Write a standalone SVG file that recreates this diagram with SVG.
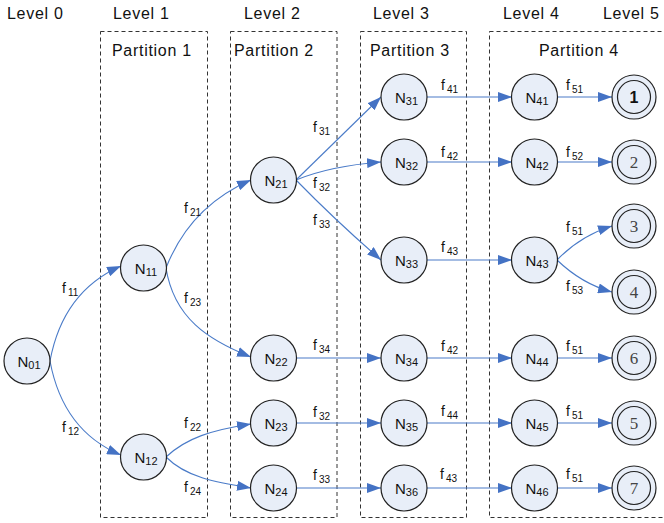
<svg xmlns="http://www.w3.org/2000/svg" width="664" height="523" viewBox="0 0 664 523">
<defs>
<marker id="ah" markerWidth="14" markerHeight="10" refX="14" refY="5" orient="auto" markerUnits="userSpaceOnUse">
<path d="M0,0 L14,5 L0,10 Z" fill="#4472c4"/>
</marker>
<style>
.lvl{font-family:"Liberation Sans",Arial,sans-serif;font-size:16px;fill:#111;letter-spacing:0.7px}
.part{fill:none;stroke:#333;stroke-width:1;stroke-dasharray:4,3}
.n{fill:#e8eef8;stroke:#222;stroke-width:1.2}
.nt{font-family:"Liberation Sans",Arial,sans-serif;font-size:15px;fill:#111;text-anchor:middle}
.sub{font-size:11px}
.fin{font-family:"Liberation Serif","Times New Roman",serif;font-size:17px;fill:#444;text-anchor:middle}
.e{fill:none;stroke:#4a7bc8;stroke-width:1.1;marker-end:url(#ah)}
.el{font-family:"Liberation Sans",Arial,sans-serif;font-size:14px;fill:#111}
.es{font-size:10px}
</style>
</defs>
<g id="levels">
<text class="lvl" x="7" y="19">Level 0</text>
<text class="lvl" x="113" y="19">Level 1</text>
<text class="lvl" x="244" y="19">Level 2</text>
<text class="lvl" x="373" y="19">Level 3</text>
<text class="lvl" x="503" y="19">Level 4</text>
<text class="lvl" x="603" y="19">Level 5</text>
</g>
<g id="partitions">
<rect class="part" x="100.5" y="31.5" width="107" height="486"/>
<rect class="part" x="230.5" y="31.5" width="106.5" height="486"/>
<rect class="part" x="360.5" y="31.5" width="106" height="486"/>
<rect class="part" x="489.5" y="31.5" width="190" height="486"/>
<text class="lvl" x="112" y="56">Partition 1</text>
<text class="lvl" x="234" y="56">Partition 2</text>
<text class="lvl" x="370" y="56">Partition 3</text>
<text class="lvl" x="539" y="56">Partition 4</text>
</g>
<g id="connectors">
<path class="e" d="M50,361 C58,318 80,284 121,266"/>
<path class="e" d="M50,361 C58,404 80,438 121,455"/>
<path class="e" d="M166,268 C184,222 214,196 251,180"/>
<path class="e" d="M166,268 C174,318 208,340 251,357"/>
<path class="e" d="M166,457 C186,438 212,430 251,424"/>
<path class="e" d="M166,457 C186,477 214,482 251,488"/>
<path class="e" d="M296,180 L381,97"/>
<path class="e" d="M296,180 Q330,166 381,162"/>
<path class="e" d="M296,180 Q335,220 381,260"/>
<path class="e" d="M296,358 L381,358"/>
<path class="e" d="M296,423 L381,423"/>
<path class="e" d="M296,488 L381,488"/>
<path class="e" d="M427,97 L512,97"/>
<path class="e" d="M427,162 L512,162"/>
<path class="e" d="M427,260 L512,260"/>
<path class="e" d="M427,358 L512,358"/>
<path class="e" d="M427,423 L512,423"/>
<path class="e" d="M427,488 L512,488"/>
<path class="e" d="M557,97 L612,97"/>
<path class="e" d="M557,162 L612,162"/>
<path class="e" d="M557,260 Q580,236 612,226"/>
<path class="e" d="M557,260 Q582,284 612,292"/>
<path class="e" d="M557,358 L612,358"/>
<path class="e" d="M557,423 L612,423"/>
<path class="e" d="M557,488 L612,488"/>
<text class="el" x="62" y="293">f<tspan class="es" dx="2" dy="3">11</tspan></text>
<text class="el" x="62" y="432">f<tspan class="es" dx="2" dy="3">12</tspan></text>
<text class="el" x="184" y="213">f<tspan class="es" dx="2" dy="3">21</tspan></text>
<text class="el" x="184" y="303">f<tspan class="es" dx="2" dy="3">23</tspan></text>
<text class="el" x="184" y="428">f<tspan class="es" dx="2" dy="3">22</tspan></text>
<text class="el" x="184" y="492">f<tspan class="es" dx="2" dy="3">24</tspan></text>
<text class="el" x="313" y="132">f<tspan class="es" dx="2" dy="3">31</tspan></text>
<text class="el" x="313" y="188">f<tspan class="es" dx="2" dy="3">32</tspan></text>
<text class="el" x="313" y="225">f<tspan class="es" dx="2" dy="3">33</tspan></text>
<text class="el" x="313" y="350">f<tspan class="es" dx="2" dy="3">34</tspan></text>
<text class="el" x="313" y="417">f<tspan class="es" dx="2" dy="3">32</tspan></text>
<text class="el" x="313" y="480">f<tspan class="es" dx="2" dy="3">33</tspan></text>
<text class="el" x="441" y="90">f<tspan class="es" dx="2" dy="3">41</tspan></text>
<text class="el" x="441" y="157">f<tspan class="es" dx="2" dy="3">42</tspan></text>
<text class="el" x="441" y="252">f<tspan class="es" dx="2" dy="3">43</tspan></text>
<text class="el" x="441" y="351">f<tspan class="es" dx="2" dy="3">42</tspan></text>
<text class="el" x="441" y="416">f<tspan class="es" dx="2" dy="3">44</tspan></text>
<text class="el" x="440" y="479">f<tspan class="es" dx="2" dy="3">43</tspan></text>
<text class="el" x="566" y="90">f<tspan class="es" dx="2" dy="3">51</tspan></text>
<text class="el" x="566" y="157">f<tspan class="es" dx="2" dy="3">52</tspan></text>
<text class="el" x="566" y="232">f<tspan class="es" dx="2" dy="3">51</tspan></text>
<text class="el" x="566" y="291">f<tspan class="es" dx="2" dy="3">53</tspan></text>
<text class="el" x="566" y="351">f<tspan class="es" dx="2" dy="3">51</tspan></text>
<text class="el" x="566" y="416">f<tspan class="es" dx="2" dy="3">51</tspan></text>
<text class="el" x="566" y="479">f<tspan class="es" dx="2" dy="3">51</tspan></text>
</g>
<g id="N01"><circle class="n" cx="27" cy="361" r="23"/><text class="nt" x="29" y="367">N<tspan class="sub" dy="2">01</tspan></text></g>
<g id="N11"><circle class="n" cx="143.5" cy="268" r="23"/><text class="nt" x="146" y="274">N<tspan class="sub" dy="2">11</tspan></text></g>
<g id="N12"><circle class="n" cx="143.5" cy="457" r="23"/><text class="nt" x="146" y="463">N<tspan class="sub" dy="2">12</tspan></text></g>
<g id="N21"><circle class="n" cx="273.5" cy="180" r="23"/><text class="nt" x="276" y="186">N<tspan class="sub" dy="2">21</tspan></text></g>
<g id="N22"><circle class="n" cx="273.5" cy="358" r="23"/><text class="nt" x="276" y="364">N<tspan class="sub" dy="2">22</tspan></text></g>
<g id="N23"><circle class="n" cx="273.5" cy="423" r="23"/><text class="nt" x="276" y="429">N<tspan class="sub" dy="2">23</tspan></text></g>
<g id="N24"><circle class="n" cx="273.5" cy="488" r="23"/><text class="nt" x="276" y="494">N<tspan class="sub" dy="2">24</tspan></text></g>
<g id="N31"><circle class="n" cx="404" cy="97" r="23"/><text class="nt" x="406.5" y="103">N<tspan class="sub" dy="2">31</tspan></text></g>
<g id="N32"><circle class="n" cx="404" cy="162" r="23"/><text class="nt" x="406.5" y="168">N<tspan class="sub" dy="2">32</tspan></text></g>
<g id="N33"><circle class="n" cx="404" cy="260" r="23"/><text class="nt" x="406.5" y="266">N<tspan class="sub" dy="2">33</tspan></text></g>
<g id="N34"><circle class="n" cx="404" cy="358" r="23"/><text class="nt" x="406.5" y="364">N<tspan class="sub" dy="2">34</tspan></text></g>
<g id="N35"><circle class="n" cx="404" cy="423" r="23"/><text class="nt" x="406.5" y="429">N<tspan class="sub" dy="2">35</tspan></text></g>
<g id="N36"><circle class="n" cx="404" cy="488" r="23"/><text class="nt" x="406.5" y="494">N<tspan class="sub" dy="2">36</tspan></text></g>
<g id="N41"><circle class="n" cx="534.5" cy="97" r="23"/><text class="nt" x="537" y="103">N<tspan class="sub" dy="2">41</tspan></text></g>
<g id="N42"><circle class="n" cx="534.5" cy="162" r="23"/><text class="nt" x="537" y="168">N<tspan class="sub" dy="2">42</tspan></text></g>
<g id="N43"><circle class="n" cx="534.5" cy="260" r="23"/><text class="nt" x="537" y="266">N<tspan class="sub" dy="2">43</tspan></text></g>
<g id="N44"><circle class="n" cx="534.5" cy="358" r="23"/><text class="nt" x="537" y="364">N<tspan class="sub" dy="2">44</tspan></text></g>
<g id="N45"><circle class="n" cx="534.5" cy="423" r="23"/><text class="nt" x="537" y="429">N<tspan class="sub" dy="2">45</tspan></text></g>
<g id="N46"><circle class="n" cx="534.5" cy="488" r="23"/><text class="nt" x="537" y="494">N<tspan class="sub" dy="2">46</tspan></text></g>
<g id="T1"><circle class="n" cx="634" cy="97" r="22"/><circle class="n" cx="634" cy="97" r="16.5"/><text class="nt" x="634" y="103" style="font-weight:bold;font-size:16px">1</text></g>
<g id="T2"><circle class="n" cx="634" cy="162" r="22"/><circle class="n" cx="634" cy="162" r="16.5"/><text class="fin" x="634" y="168">2</text></g>
<g id="T3"><circle class="n" cx="634" cy="226" r="22"/><circle class="n" cx="634" cy="226" r="16.5"/><text class="fin" x="634" y="232">3</text></g>
<g id="T4"><circle class="n" cx="634" cy="292" r="22"/><circle class="n" cx="634" cy="292" r="16.5"/><text class="fin" x="634" y="298">4</text></g>
<g id="T6"><circle class="n" cx="634" cy="358" r="22"/><circle class="n" cx="634" cy="358" r="16.5"/><text class="fin" x="634" y="364">6</text></g>
<g id="T5"><circle class="n" cx="634" cy="423" r="22"/><circle class="n" cx="634" cy="423" r="16.5"/><text class="fin" x="634" y="429">5</text></g>
<g id="T7"><circle class="n" cx="634" cy="488" r="22"/><circle class="n" cx="634" cy="488" r="16.5"/><text class="fin" x="634" y="494">7</text></g>
</svg>
